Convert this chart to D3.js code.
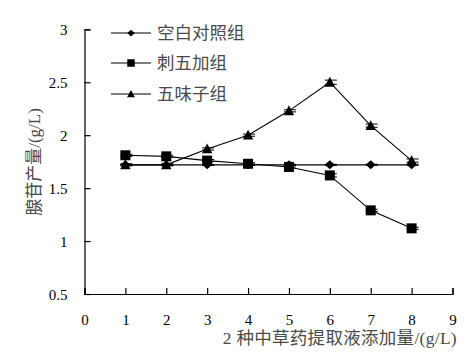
<!DOCTYPE html>
<html><head><meta charset="utf-8">
<script src="https://cdn.jsdelivr.net/npm/d3@7"></script>
<style>body{margin:0;background:#fff}svg{display:block}</style>
</head><body><svg id="c" width="469" height="356"></svg>
<script>
const doses = [1,2,3,4,5,6,7,8];
const seriesNames = ["空白对照组","刺五加组","五味子组"];
const control = [1.72,1.72,1.72,1.72,1.72,1.72,1.72,1.72];
const ciwujia = [1.81,1.80,1.76,1.73,1.70,1.62,1.29,1.12];
const wuweizi = [1.72,1.72,1.87,2.00,2.23,2.50,2.09,1.76];
const controlErr = [0.005,0.005,0.005,0.005,0.005,0.005,0.005,0.005];
const ciwujiaErr = [0.01,0.01,0.01,0.01,0.01,0.015,0.01,0.01];
const wuweiziErr = [0.01,0.01,0.01,0.01,0.01,0.02,0.015,0.015];
const xTicks = [0,1,2,3,4,5,6,7,8,9];
const yTicks = [0.5,1,1.5,2,2.5,3];
const xTitle = "2 种中草药提取液添加量/(g/L)";
const yTitle = "腺苷产量/(g/L)";

const svg = d3.select("#c");
const x = d3.scaleLinear().domain([0,9]).range([84.5,452.5]);
const y = d3.scaleLinear().domain([0.5,3]).range([294,29.3]);
const serif = "'Liberation Serif','Times New Roman',serif";
const cjk = "'Liberation Serif','Noto Sans CJK SC',serif";
const txtCol = "#4a4a4a";

// axes
const xAxis = d3.axisBottom(x).tickValues(xTicks).tickSize(-6).tickFormat(d3.format("d")).tickPadding(20);
const gx = svg.append("g").attr("transform",`translate(0,${y(0.5)})`).call(xAxis);
const yAxis = d3.axisLeft(y).tickValues(yTicks).tickSize(-6).tickFormat(d=>String(d)).tickPadding(17);
const gy = svg.append("g").attr("transform",`translate(${x(0)},0)`).call(yAxis);
[gx,gy].forEach(g=>{
  g.select(".domain").attr("stroke","#000").attr("stroke-width",1.2);
  g.selectAll(".tick line").attr("stroke","#000").attr("stroke-width",1.2);
  g.selectAll(".tick text").attr("fill","#000").style("font-family",serif).style("font-size","15px");
});
gy.selectAll(".tick text").attr("dy","0.35em");

// titles
svg.append("text").attr("x",457).attr("y",344).attr("text-anchor","end")
  .style("font-family",cjk).style("font-size","17.5px").style("letter-spacing","0.3px").attr("fill",txtCol).text(xTitle);
svg.append("text").attr("transform","translate(40,162) rotate(-90)").attr("text-anchor","middle")
  .style("font-family",cjk).style("font-size","17px").attr("fill",txtCol).text(yTitle);

const line = d3.line().x((d,i)=>x(doses[i])).y(d=>y(d));
const diamond = {draw(ctx,s){const w=s,h=s*0.9;ctx.moveTo(0,-h);ctx.lineTo(w,0);ctx.lineTo(0,h);ctx.lineTo(-w,0);ctx.closePath();}};
const square = {draw(ctx,s){ctx.rect(-s,-s,2*s,2*s);}};
const tri = {draw(ctx,s){ctx.moveTo(0,-s*1.05);ctx.lineTo(s,s*0.85);ctx.lineTo(-s,s*0.85);ctx.closePath();}};
const symbols = [diamond, square, tri];
const symSizes = [5, 5, 5.2];
const data = [control, ciwujia, wuweizi];
const errs = [controlErr, ciwujiaErr, wuweiziErr];

data.forEach((vals,k)=>{
  svg.append("path").datum(vals).attr("d",line).attr("fill","none").attr("stroke","#000").attr("stroke-width",1.1);
});
data.forEach((vals,k)=>{
  const g = svg.append("g");
  vals.forEach((v,i)=>{
    const e = errs[k][i], cx = x(doses[i]);
    g.append("line").attr("x1",cx).attr("x2",cx).attr("y1",y(v+e)).attr("y2",y(v-e)).attr("stroke","#000");
    [v+e, v-e].forEach(t=>g.append("line").attr("x1",cx-5).attr("x2",cx+7).attr("y1",y(t)).attr("y2",y(t)).attr("stroke","#000").attr("stroke-width",1));
    g.append("path").attr("d",d3.symbol(symbols[k],symSizes[k])()).attr("transform",`translate(${cx},${y(v)})`).attr("fill","#000");
  });
});

// legend
const legY = [33,63,94];
seriesNames.forEach((n,k)=>{
  svg.append("line").attr("x1",111).attr("x2",151).attr("y1",legY[k]).attr("y2",legY[k]).attr("stroke","#000").attr("stroke-width",1.1);
  svg.append("path").attr("d",d3.symbol(symbols[k],symSizes[k]*0.75)()).attr("transform",`translate(131,${legY[k]})`).attr("fill","#000");
  svg.append("text").attr("x",157).attr("y",legY[k]+6).style("font-family",cjk).style("font-size","17.5px")
    .attr("fill",txtCol).text(n);
});
</script></body></html>
